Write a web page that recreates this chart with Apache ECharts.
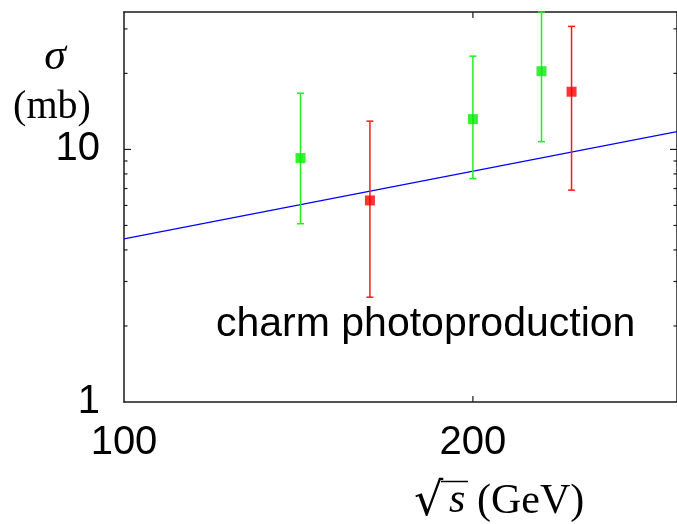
<!DOCTYPE html>
<html><head><meta charset="utf-8">
<script src="https://cdn.jsdelivr.net/npm/echarts@6/dist/echarts.min.js"></script>
<style>html,body{margin:0;padding:0;background:#fff}#c{width:677px;height:524px}</style>
</head><body><div id="c"></div>
<script>
// ---- data ----
const xRange = [100, 300];
const yRange = [1, 35];
const xTickValues = [100, 200];
const xTickLabels = ['100', '200'];
const xInnerTicks = [200];
const yMajorTicks = [10];
const yMinorTicks = [2, 3, 4, 5, 6, 7, 8, 9, 20, 30];
const greenX = [142, 200, 229.2];
const greenY = [9.24, 13.18, 20.4];
const greenLow = [5.08, 7.66, 10.73];
const greenHigh = [16.7, 23.4, 35];
const redX = [163, 243.3];
const redY = [6.28, 16.92];
const redLow = [2.60, 6.90];
const redHigh = [12.94, 30.7];
const fitX = [100, 300];
const fitY = [4.42, 11.76];

// ---- chart ----
const chart = echarts.init(document.getElementById('c'), null, {renderer: 'canvas'});
const lineStyle = {color: '#1a1a1a', width: 1.5};
const SANS = 'Liberation Sans, Arial, sans-serif';
const SERIF = 'Liberation Serif, Times New Roman, serif';

function errorBars(xs, lows, highs, color, width) {
  return {
    type: 'custom', silent: true, z: 3,
    xAxisIndex: 0, yAxisIndex: 0,
    encode: {x: 0, y: [1, 2]},
    data: xs.map((x, i) => [x, lows[i], highs[i]]),
    renderItem: (params, api) => {
      const x = api.value(0);
      const lo = api.coord([x, api.value(1)]);
      const hi = api.coord([x, api.value(2)]);
      const hw = 3.5;
      const style = {stroke: color, lineWidth: width};
      return {type: 'group', children: [
        {type: 'line', shape: {x1: hi[0], y1: hi[1], x2: lo[0], y2: lo[1]}, style},
        {type: 'line', shape: {x1: hi[0] - hw, y1: hi[1], x2: hi[0] + hw, y2: hi[1]}, style},
        {type: 'line', shape: {x1: lo[0] - hw, y1: lo[1], x2: lo[0] + hw, y2: lo[1]}, style}
      ]};
    }
  };
}

function yTicks(values, len) {
  return {
    type: 'custom', silent: true, z: 4,
    xAxisIndex: 0, yAxisIndex: 0,
    data: values.map(v => [xRange[0], v]),
    renderItem: (params, api) => {
      const v = api.value(1);
      const l = api.coord([xRange[0], v]);
      const r = api.coord([xRange[1], v]);
      const style = {stroke: '#1a1a1a', lineWidth: 1.2};
      return {type: 'group', children: [
        {type: 'line', shape: {x1: l[0], y1: l[1], x2: l[0] + len, y2: l[1]}, style},
        {type: 'line', shape: {x1: r[0], y1: r[1], x2: r[0] - len, y2: r[1]}, style}
      ]};
    }
  };
}

const xTicksSeries = {
  type: 'custom', silent: true, z: 4,
  xAxisIndex: 0, yAxisIndex: 0,
  data: xInnerTicks.map(v => [v, yRange[0]]),
  renderItem: (params, api) => {
    const v = api.value(0);
    const b = api.coord([v, yRange[0]]);
    const t = api.coord([v, yRange[1]]);
    const style = {stroke: '#1a1a1a', lineWidth: 1.2};
    return {type: 'group', children: [
      {type: 'line', shape: {x1: b[0], y1: b[1], x2: b[0], y2: b[1] - 6}, style},
      {type: 'line', shape: {x1: t[0], y1: t[1], x2: t[0], y2: t[1] + 6}, style}
    ]};
  }
};

const xLabelsSeries = {
  type: 'custom', silent: true, z: 4,
  xAxisIndex: 0, yAxisIndex: 0,
  data: xTickValues.map(v => [v, yRange[0]]),
  renderItem: (params, api) => {
    const p = api.coord([api.value(0), yRange[0]]);
    return {type: 'text', x: p[0], y: p[1] + 41.3,
      style: {text: xTickLabels[params.dataIndex], fill: '#000', fontSize: 40,
        fontFamily: SANS, align: 'center', verticalAlign: 'middle'}};
  }
};

const baseX = {type: 'log', logBase: 10, min: xRange[0], max: xRange[1],
  axisLine: {show: true, lineStyle}, axisTick: {show: false},
  axisLabel: {show: false}, splitLine: {show: false}, minorTick: {show: false}};
const baseY = {type: 'log', logBase: 10, min: yRange[0], max: yRange[1],
  axisLine: {show: true, lineStyle}, axisTick: {show: false},
  splitLine: {show: false}, minorTick: {show: false}};

const option = {
  animation: false,
  backgroundColor: '#fff',
  grid: {left: 124, right: -2, top: 12, bottom: 122},
  xAxis: [
    Object.assign({}, baseX, {position: 'bottom'}),
    Object.assign({}, baseX, {position: 'top'})
  ],
  yAxis: [
    Object.assign({}, baseY, {position: 'left',
      axisLabel: {show: true, fontSize: 40, fontFamily: SANS, color: '#000', margin: 24,
        showMaxLabel: false}}),
    Object.assign({}, baseY, {position: 'right', axisLabel: {show: false}})
  ],
  graphic: [
    {type: 'text', x: 55, y: 57, style: {text: 'σ', fontSize: 44, fontStyle: 'italic',
      fontFamily: SERIF, fill: '#000', align: 'center', verticalAlign: 'middle'}},
    {type: 'text', x: 52, y: 107, style: {text: '(mb)', fontSize: 40,
      fontFamily: SERIF, fill: '#000', align: 'center', verticalAlign: 'middle'}},
    {type: 'text', x: 216, y: 325, style: {text: 'charm photoproduction', fontSize: 41,
      fontFamily: SANS, fill: '#000', align: 'left', verticalAlign: 'middle'}},
    {type: 'text', x: 414, y: 503, style: {text: '√', fontSize: 46,
      fontFamily: 'DejaVu Serif', fill: '#000', align: 'left', verticalAlign: 'middle'}},
    {type: 'text', x: 449, y: 501, style: {text: 's', fontSize: 42, fontStyle: 'italic',
      fontFamily: SERIF, fill: '#000', align: 'left', verticalAlign: 'middle'}},
    {type: 'line', shape: {x1: 441, y1: 481.5, x2: 468, y2: 481.5}, style: {stroke: '#000', lineWidth: 1.5}},
    {type: 'text', x: 477, y: 502, style: {text: '(GeV)', fontSize: 42,
      fontFamily: SERIF, fill: '#000', align: 'left', verticalAlign: 'middle'}}
  ],
  series: [
    {type: 'line', xAxisIndex: 0, yAxisIndex: 0, data: fitX.map((x, i) => [x, fitY[i]]),
      symbol: 'none', lineStyle: {color: '#0000ff', width: 1.3}, z: 2, silent: true},
    errorBars(greenX, greenLow, greenHigh, '#22ee22', 1.5),
    errorBars(redX, redLow, redHigh, '#ff1a1a', 1.5),
    {type: 'scatter', xAxisIndex: 0, yAxisIndex: 0, data: greenX.map((x, i) => [x, greenY[i]]),
      symbol: 'rect', symbolSize: 10, itemStyle: {color: '#00ee00'}, z: 5, silent: true},
    {type: 'scatter', xAxisIndex: 0, yAxisIndex: 0, data: redX.map((x, i) => [x, redY[i]]),
      symbol: 'rect', symbolSize: 10, itemStyle: {color: '#ff0000'}, z: 5, silent: true},
    yTicks(yMinorTicks, 3.5),
    yTicks(yMajorTicks, 7),
    xTicksSeries,
    xLabelsSeries
  ]
};
chart.setOption(option);
</script>
</body></html>
